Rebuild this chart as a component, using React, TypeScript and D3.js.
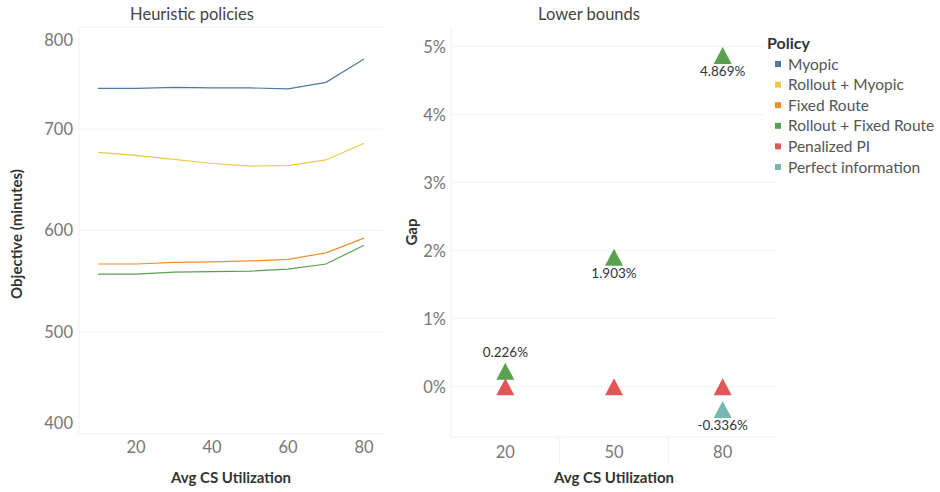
import React from 'react';
import * as d3 from 'd3';

const utilization = [10, 20, 30, 40, 50, 60, 70, 80];
const myopic = [740, 740, 741, 740.5, 740.5, 739.5, 746, 769];
const rolloutMyopic = [677, 674, 670, 666, 663.5, 664, 669.5, 686];
const fixedRoute = [567, 567, 568.5, 569, 570, 571.5, 578, 592.5];
const rolloutFixed = [557, 557, 559, 559.5, 560, 562, 567, 585.5];

const lbCategories = ['20', '50', '80'];
const lbRolloutFixed = [0.226, 1.903, 4.869];
const lbPenalized = [0, 0, 0];
const lbPerfect: (number | null)[] = [null, null, -0.336];

const leftYTicks = [400, 500, 600, 700, 800];
const leftXTicks = [20, 40, 60, 80];
const rightYTicks = [0, 1, 2, 3, 4, 5];

const policies = ['Myopic', 'Rollout + Myopic', 'Fixed Route', 'Rollout + Fixed Route', 'Penalized PI', 'Perfect information'];
const colors = ['#4e79a7', '#edc948', '#f28e2b', '#59a14f', '#e15759', '#76b7b2'];

const FONT = 'Lato, "Open Sans", sans-serif';

const triangle = (cx: number, cy: number, w = 18, h = 17) =>
  `M${cx},${cy - h / 2}L${cx + w / 2},${cy + h / 2}L${cx - w / 2},${cy + h / 2}Z`;

const App: React.FC = () => {
  // left panel
  const lx = d3.scaleLinear().domain([5, 85]).range([79, 383]);
  const ly = d3.scaleLinear().domain([400, 800]).range([433.5, 27.5]);
  const line = d3.line<number>().x((_, i) => lx(utilization[i])).y(d => ly(d));
  const lineSeries = [myopic, rolloutMyopic, fixedRoute, rolloutFixed];

  // right panel
  const rx = d3.scaleBand<string>().domain(lbCategories).range([451, 777]);
  const ry = d3.scaleLinear().domain([-0.74, 5.275]).range([437, 28]);
  const cx = (c: string) => (rx(c) ?? 0) + rx.bandwidth() / 2;

  const edgeLabelY = (v: number) => {
    if (v === 800) return ly(v) + 13;
    if (v === 400) return ly(v) - 10;
    return ly(v);
  };

  return (
    <svg width={940} height={492} style={{ position: 'absolute', left: 0, top: 0, fontFamily: FONT }}>
      <rect x={0} y={0} width={940} height={492} fill="#fff" />

      {/* Left panel */}
      <text x={192} y={20} textAnchor="middle" fontSize={16.5} fill="#444">Heuristic policies</text>
      {leftYTicks.map(t => (
        <g key={t}>
          {t !== 400 && <line x1={79} x2={383} y1={ly(t)} y2={ly(t)} stroke="#f2f2f2" />}
          <text x={73} y={edgeLabelY(t)} dy="0.36em" textAnchor="end" fontSize={16.5} fill="#777">{t}</text>
        </g>
      ))}
      <line x1={79} x2={79} y1={27.5} y2={433.5} stroke="#f0f0f0" />
      <line x1={79} x2={383} y1={433.5} y2={433.5} stroke="#f0f0f0" />
      {leftXTicks.map(t => (
        <text key={t} x={lx(t)} y={447} dy="0.36em" textAnchor="middle" fontSize={16.5} fill="#777">{t}</text>
      ))}
      {lineSeries.map((s, i) => (
        <path key={i} d={line(s) ?? ''} fill="none" stroke={colors[i]} strokeWidth={1.2} />
      ))}
      <text transform="translate(22,234) rotate(-90)" textAnchor="middle" fontSize={15} fontWeight={700} fill="#333">Objective (minutes)</text>
      <text x={231} y={483} textAnchor="middle" fontSize={15} fontWeight={700} fill="#333">Avg CS Utilization</text>

      {/* Right panel */}
      <text x={589} y={20} textAnchor="middle" fontSize={16.5} fill="#444">Lower bounds</text>
      {rightYTicks.map(t => (
        <g key={t}>
          <line x1={451} x2={777} y1={ry(t)} y2={ry(t)} stroke="#f2f2f2" />
          <text x={446} y={ry(t)} dy="0.36em" textAnchor="end" fontSize={16.5} fill="#777">{t}%</text>
        </g>
      ))}
      <line x1={451} x2={451} y1={28} y2={437} stroke="#f0f0f0" />
      <line x1={451} x2={777} y1={437} y2={437} stroke="#f0f0f0" />
      {lbCategories.slice(1).map(c => (
        <line key={c} x1={rx(c)} x2={rx(c)} y1={437} y2={466} stroke="#f2f2f2" />
      ))}
      {lbCategories.map(c => (
        <text key={c} x={cx(c)} y={452} dy="0.36em" textAnchor="middle" fontSize={16.5} fill="#777">{c}</text>
      ))}
      <text transform="translate(417,232) rotate(-90)" textAnchor="middle" fontSize={15} fontWeight={700} fill="#333">Gap</text>
      <text x={614} y={483} textAnchor="middle" fontSize={15} fontWeight={700} fill="#333">Avg CS Utilization</text>

      {lbCategories.map((c, i) => (
        <path key={'p' + c} d={triangle(cx(c), ry(lbPenalized[i]))} fill={colors[4]} />
      ))}
      {lbCategories.map((c, i) => lbPerfect[i] === null ? null : (
        <g key={'q' + c}>
          <path d={triangle(cx(c), ry(lbPerfect[i] as number))} fill={colors[5]} />
          <text x={cx(c)} y={ry(lbPerfect[i] as number) + 20.5} textAnchor="middle" fontSize={13.5} fill="#333">{(lbPerfect[i] as number).toFixed(3)}%</text>
        </g>
      ))}
      {lbCategories.map((c, i) => (
        <g key={'g' + c}>
          <path d={triangle(cx(c), ry(lbRolloutFixed[i]))} fill={colors[3]} />
          <text x={cx(c)} y={i === 0 ? ry(lbRolloutFixed[i]) - 14 : ry(lbRolloutFixed[i]) + 20.5} textAnchor="middle" fontSize={13.5} fill="#333">{lbRolloutFixed[i].toFixed(3)}%</text>
        </g>
      ))}

      {/* Legend */}
      <rect x={764} y={28} width={176} height={152} fill="#fff" />
      <text x={767} y={49} fontSize={16} fontWeight={700} fill="#333">Policy</text>
      {policies.map((p, i) => (
        <g key={p} transform={`translate(775,${64 + i * 20.6})`}>
          <rect x={0} y={-3} width={6} height={6} fill={colors[i]} />
          <text x={13} y={0} dy="0.36em" fontSize={15.5} fill="#555">{p}</text>
        </g>
      ))}
    </svg>
  );
};

export default App;
